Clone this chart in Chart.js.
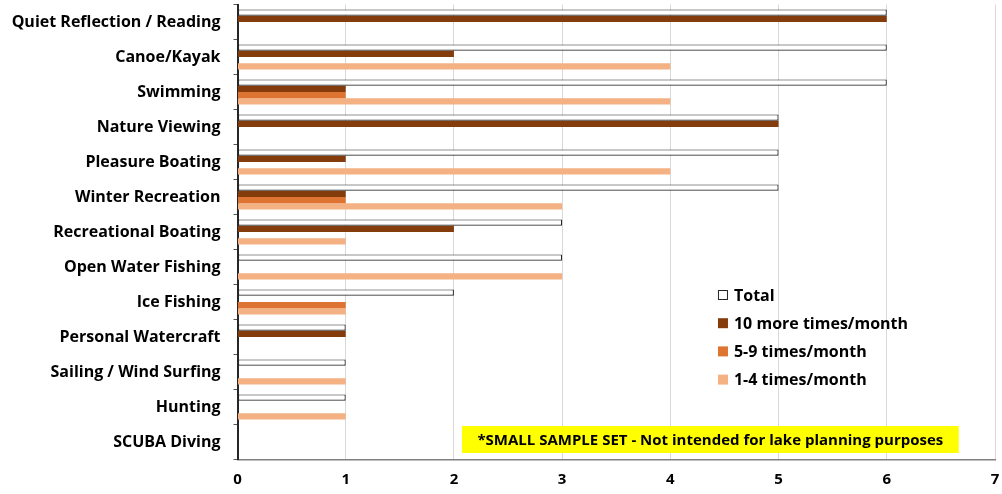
<!DOCTYPE html>
<html><head><meta charset="utf-8">
<script src="https://cdn.jsdelivr.net/npm/chart.js@4.4.0/dist/chart.umd.min.js"></script>
<style>html,body{margin:0;padding:0;background:#fff}#wrap{width:1002px;height:494px;position:relative}</style>
</head><body><div id="wrap"><canvas id="c" width="1002" height="494"></canvas></div>
<script>
const categories = ["Quiet Reflection / Reading","Canoe/Kayak","Swimming","Nature Viewing","Pleasure Boating","Winter Recreation","Recreational Boating","Open Water Fishing","Ice Fishing","Personal Watercraft","Sailing / Wind Surfing","Hunting","SCUBA Diving"];
const totalVals   = [6,6,6,5,5,5,3,3,2,1,1,1,0];
const tenPlusVals = [6,2,1,5,1,1,2,0,0,1,0,0,0];
const fiveNineVals= [0,0,1,0,0,1,0,0,1,0,0,0,0];
const oneFourVals = [0,4,4,0,4,3,1,3,1,0,1,1,0];
const seriesNames = ["Total","10 more times/month","5-9 times/month","1-4 times/month"];
const xTicks = [0,1,2,3,4,5,6,7];
const noteText = "*SMALL SAMPLE SET - Not intended for lake planning purposes";

const FONT = "'Open Sans', 'Liberation Sans', sans-serif";
const colors = ["#ffffff","#843C0C","#DD7431","#F4B183"];

const overlay = {
  id:'overlay',
  afterDraw(chart){
    const ctx = chart.ctx, xs = chart.scales.x, ys = chart.scales.y;
    ctx.save();
    ctx.font = "bold 16px " + FONT;
    ctx.textBaseline = 'middle';
    const lx = xs.getPixelForValue(4.44), ly0 = 295, dy = 28.2;
    chart.data.datasets.forEach((ds,i)=>{
      const y = ly0 + i*dy;
      ctx.fillStyle = ds.backgroundColor;
      ctx.fillRect(lx, y-5, 10, 10);
      if (i===0){ ctx.strokeStyle = '#262626'; ctx.lineWidth = 1; ctx.strokeRect(lx+0.5, y-4.5, 9, 9); }
      ctx.fillStyle = '#000';
      ctx.fillText(ds.label, lx+16, y+1);
    });
    const bx = xs.getPixelForValue(2.074), bx2 = xs.getPixelForValue(6.665);
    const by = ys.getPixelForValue(12) - 16, bh = 27;
    ctx.fillStyle = '#FFFF00';
    ctx.fillRect(bx, by, bx2-bx, bh);
    ctx.fillStyle = '#000';
    ctx.font = "bold 15px " + FONT;
    ctx.textAlign = 'center';
    ctx.fillText(noteText, (bx+bx2)/2, by + bh/2 + 1);
    ctx.restore();
  }
};

new Chart(document.getElementById('c'), {
  type:'bar',
  data:{
    labels: categories,
    datasets:[
      {label:seriesNames[0], data:totalVals, backgroundColor:colors[0], borderColor:'#262626', borderWidth:1.2, borderSkipped:false},
      {label:seriesNames[1], data:tenPlusVals, backgroundColor:colors[1], borderWidth:0},
      {label:seriesNames[2], data:fiveNineVals, backgroundColor:colors[2], borderWidth:0},
      {label:seriesNames[3], data:oneFourVals, backgroundColor:colors[3], borderWidth:0}
    ]
  },
  options:{
    indexAxis:'y',
    responsive:false,
    animation:false,
    devicePixelRatio:1,
    layout:{autoPadding:false, padding:{top:4.5,right:7,left:0,bottom:0}},
    categoryPercentage:0.72,
    barPercentage:1.0,
    plugins:{legend:{display:false}, tooltip:{enabled:false}},
    scales:{
      x:{
        min:0, max:7,
        afterBuildTicks(s){ s.ticks = xTicks.map(v=>({value:v})); },
        afterFit(s){ s.height = 34.5; s.paddingLeft = 0; s.paddingRight = 0; },
        grid:{color:'#D9D9D9', lineWidth:1, drawTicks:false},
        border:{display:true, color:'#7F7F7F', width:1.5},
        ticks:{font:{family:FONT, size:15, weight:'bold'}, color:'#000', padding:11}
      },
      y:{
        afterFit(s){ s.width = 237.5; s.paddingTop = 0; s.paddingBottom = 0; },
        grid:{display:true, drawOnChartArea:false, offset:true, tickLength:4, color:'#595959'},
        border:{display:true, color:'#262626', width:2},
        ticks:{font:{family:FONT, size:16, weight:'bold'}, color:'#000', padding:13}
      }
    }
  },
  plugins:[overlay]
});
</script></body></html>
